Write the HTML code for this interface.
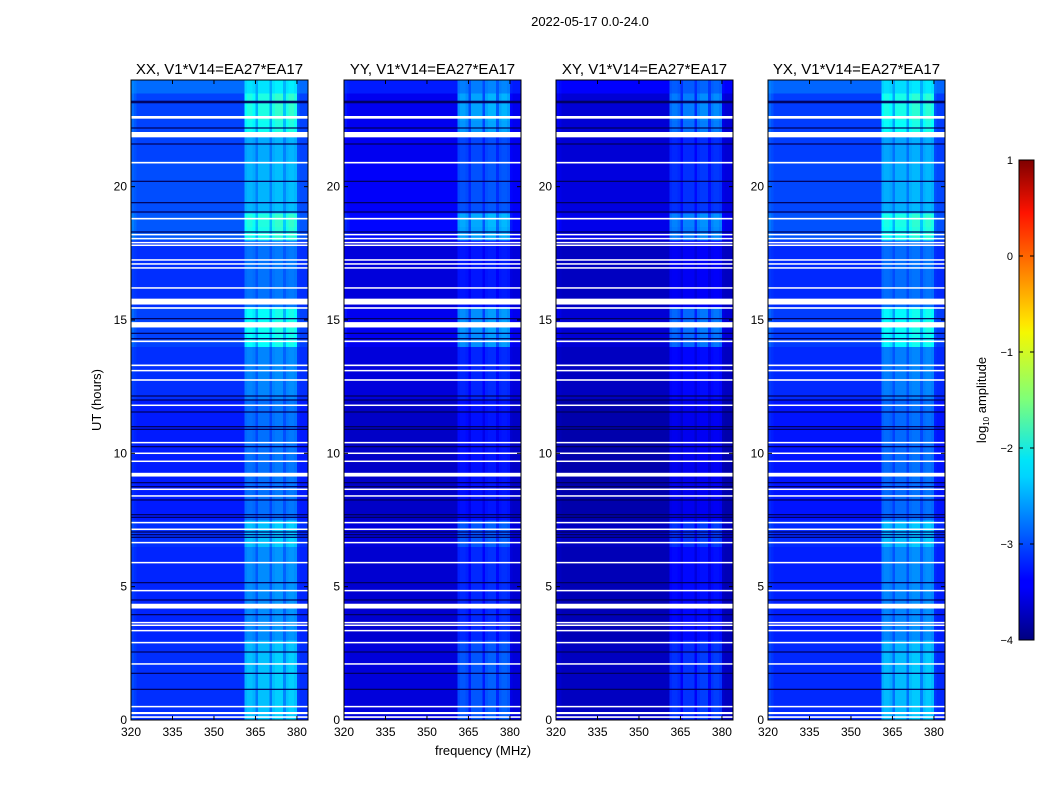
<!DOCTYPE html>
<html><head><meta charset="utf-8"><style>
body{margin:0;background:#fff;font-family:"Liberation Sans",sans-serif}
svg text{font-family:"Liberation Sans","DejaVu Sans",sans-serif}
</style></head><body>
<svg id="fig" width="1050" height="800" viewBox="0 0 1050 800" xmlns="http://www.w3.org/2000/svg">
<rect width="1050" height="800" fill="#fff"/>
<text x="590" y="26" font-size="13" text-anchor="middle">2022-05-17 0.0-24.0</text>
<text x="483" y="755" font-size="13" text-anchor="middle">frequency (MHz)</text>
<text x="101" y="400" font-size="13" text-anchor="middle" transform="rotate(-90 101 400)">UT (hours)</text>
<g id="panels"></g>
<defs><linearGradient id="jet" x1="0" y1="1" x2="0" y2="0">
<stop offset="0" stop-color="#00007f"/><stop offset="0.11" stop-color="#0000ff"/><stop offset="0.125" stop-color="#0000ff"/><stop offset="0.34" stop-color="#00d4ff"/><stop offset="0.375" stop-color="#00e5f8"/><stop offset="0.5" stop-color="#7dff7a"/><stop offset="0.64" stop-color="#f4f802"/><stop offset="0.66" stop-color="#ffe600"/><stop offset="0.89" stop-color="#ff1300"/><stop offset="1" stop-color="#7f0000"/></linearGradient></defs>
<g>
<rect x="1019" y="160" width="15" height="480" fill="url(#jet)" stroke="#000" stroke-width="1"/>
<g id="cbticks" font-size="11" text-anchor="end"></g>
<text x="986" y="400" font-size="13" text-anchor="middle" transform="rotate(-90 986 400)">log<tspan font-size="8" dy="3">10</tspan><tspan dy="-3"> amplitude</tspan></text>
</g>
</svg>
<script>
// ---- data ----
const panelTitles = ["XX, V1*V14=EA27*EA17","YY, V1*V14=EA27*EA17","XY, V1*V14=EA27*EA17","YX, V1*V14=EA27*EA17"];
const panelOffset = [-0.15, -0.55, -0.68, -0.18];
const panelBandScale = [0.85, 0.7, 0.65, 0.85];
// background log amplitude per 0.5 h bin (0..24h)
const bgLevel = [-3.0,-3.0,-3.0,-3.0,-3.0,-3.0,-3.05,-3.05,-3.05,-3.05,-3.05,-3.05,-3.05,-3.0,-3.0,-3.1,-3.1,-3.1,-3.1,-3.1,-3.1,-3.1,-3.1,-3.1,-3.0,-3.0,-3.0,-3.0,-2.9,-2.9,-2.9,-3.0,-3.0,-3.0,-3.0,-3.0,-2.8,-2.8,-2.85,-2.85,-2.85,-2.85,-2.9,-2.9,-2.9,-2.9,-2.9,-2.7];
// RFI band boost per 0.5 h bin
const bandLevel = [0.85,0.85,0.85,0.85,0.85,0.8,0.6,0.6,0.6,0.6,0.6,0.6,0.6,0.85,0.85,0.5,0.5,0.5,0.5,0.5,0.5,0.5,0.5,0.5,0.5,0.5,0.5,0.5,1.1,1.15,1.1,0.4,0.4,0.4,0.4,0.4,1.1,1.15,0.6,0.6,0.6,0.6,0.6,0.6,1.15,1.25,1.25,0.7];
// frequency profile, one value per MHz from 320 to 383
const freqProfile = [0.2,0.1,0,0,0,0,0,0,0,0,0,0,0,0,0,0,0,0,0,0,0,0,0,0,0,0,0,0,0,0,0,0,0,0,0,0,0,0,0,0,0,0.9,1,1,0.9,0.5,1,1,1,1,0.5,1,1.1,1.1,1.1,0.6,1,1.1,1.1,1,0.1,0,0,0];
// flagged (white) rows: [start hour, end hour]
const whiteRows = [[22.55,22.65],[21.85,22.05],[20.87,20.93],[18.77,18.83],[18.18,18.23],[18.03,18.08],[17.88,17.93],[17.78,17.83],[17.23,17.28],[17.08,17.13],[16.93,16.98],[16.18,16.23],[15.58,15.8],[15.42,15.48],[14.72,14.92],[14.17,14.23],[13.27,13.33],[13.08,13.13],[12.72,12.78],[11.78,11.83],[10.38,10.43],[9.98,10.03],[9.68,9.73],[9.13,9.27],[8.63,8.68],[8.38,8.43],[7.38,7.43],[7.13,7.18],[6.63,6.68],[5.88,5.93],[4.83,4.88],[4.18,4.36],[3.63,3.68],[3.53,3.58],[3.33,3.38],[2.88,2.93],[2.08,2.13],[0.48,0.53],[0.22,0.3],[0.08,0.14]];
// dark rows (hours)
const darkRows = [23.2,23.15,22.2,21.6,20.2,19.4,19.05,18.3,15.05,14.5,14.3,12.15,12.0,11.55,11.0,10.9,10.25,8.9,8.75,8.25,7.7,7.6,7.05,6.95,6.85,5.15,4.5,3.95,2.55,1.75,1.15];
const xTicks = [320,335,350,365,380];
const yTicks = [0,5,10,15,20];
const cbTicks = [1,0,-1,-2,-3,-4];
// ---- layout ----
const panelX = [131,344,556,768], PW = 177, PT = 80, PB = 720;
const fMin = 320, fMax = 384, tMax = 24, vMin = -4, vMax = 1;
const NS = "http://www.w3.org/2000/svg";
function jet(v){
  let t = Math.max(0, Math.min(1, (v - vMin)/(vMax - vMin)));
  const cl = x => Math.max(0, Math.min(1, x));
  const r = cl(1.5 - Math.abs(4*t - 3)), g = cl(1.5 - Math.abs(4*t - 2)), b = cl(1.5 - Math.abs(4*t - 1));
  return `rgb(${Math.round(r*255)},${Math.round(g*255)},${Math.round(b*255)})`;
}
function mk(tag, attrs, parent){const e=document.createElementNS(NS,tag);for(const k in attrs)e.setAttribute(k,attrs[k]);parent.appendChild(e);return e;}
const panels = document.getElementById('panels');
panelTitles.forEach((title, p) => {
  const x0 = panelX[p];
  const xs = f => x0 + (f - fMin)/(fMax - fMin)*PW;
  const ys = h => PB - h/tMax*(PB - PT);
  const g = mk('g', {}, panels);
  
  
  const hm = mk('g', {'shape-rendering':'crispEdges'}, g);
  
  
  const binH = tMax / bgLevel.length;
  bgLevel.forEach((bg, k) => {
    const y1 = ys((k+1)*binH), y2 = ys(k*binH);
    let i = 0;
    while (i < freqProfile.length) {
      let j = i;
      while (j + 1 < freqProfile.length && freqProfile[j+1] === freqProfile[i]) j++;
      const v = bg + panelOffset[p] + freqProfile[i]*bandLevel[k]*panelBandScale[p];
      const r = mk('rect', {x: xs(fMin+i), y: y1, width: xs(fMin+j+1)-xs(fMin+i)+0.3, height: y2-y1+0.3, fill: jet(v)}, hm);
      
      
      i = j + 1;
    }
  });
  darkRows.forEach(h => {
    const r = mk('rect', {x: x0, y: ys(h)-0.6, width: PW, height: 1.2, fill: '#00005a'}, g);
    
    
  });
  whiteRows.forEach(([a,b]) => {
    const r = mk('rect', {x: x0, y: ys(b), width: PW, height: Math.max(1.5, ys(a)-ys(b)), fill: '#fff'}, g);
    
    
  });
  const fr = mk('rect', {x: x0, y: PT, width: PW, height: PB-PT, fill: 'none', stroke: '#000', 'stroke-width': 1}, g);
  
  
  const tt = mk('text', {x: x0+PW/2, y: 74, 'font-size': 15, 'text-anchor': 'middle'}, g);
  tt.textContent = title;
  
  
  xTicks.forEach(f => {
    const x = xs(f);
    mk('line', {x1: x, y1: PB, x2: x, y2: PB-4, stroke: '#000'}, g);
    mk('line', {x1: x, y1: PT, x2: x, y2: PT+4, stroke: '#000'}, g);
    const t = mk('text', {x: x, y: PB+16, 'font-size': 12, 'text-anchor': 'middle'}, g);
    t.textContent = f;
    
    
  });
  yTicks.forEach(h => {
    const y = ys(h);
    mk('line', {x1: x0, y1: y, x2: x0+4, y2: y, stroke: '#000'}, g);
    mk('line', {x1: x0+PW, y1: y, x2: x0+PW-4, y2: y, stroke: '#000'}, g);
    const t = mk('text', {x: x0-4, y: y+4, 'font-size': 12, 'text-anchor': 'end'}, g);
    t.textContent = h;
    
    
  });
});
const cbt = document.getElementById('cbticks');
cbTicks.forEach(v => {
  const y = 640 - (v - vMin)/(vMax - vMin)*480;
  mk('line', {x1: 1019, y1: y, x2: 1023, y2: y, stroke: '#000'}, cbt);
  mk('line', {x1: 1034, y1: y, x2: 1030, y2: y, stroke: '#000'}, cbt);
  const t = mk('text', {x: 1013, y: y+4}, cbt);
  t.textContent = v < 0 ? '\u2212' + Math.abs(v) : String(v);
  
  
});
</script>
</body></html>
